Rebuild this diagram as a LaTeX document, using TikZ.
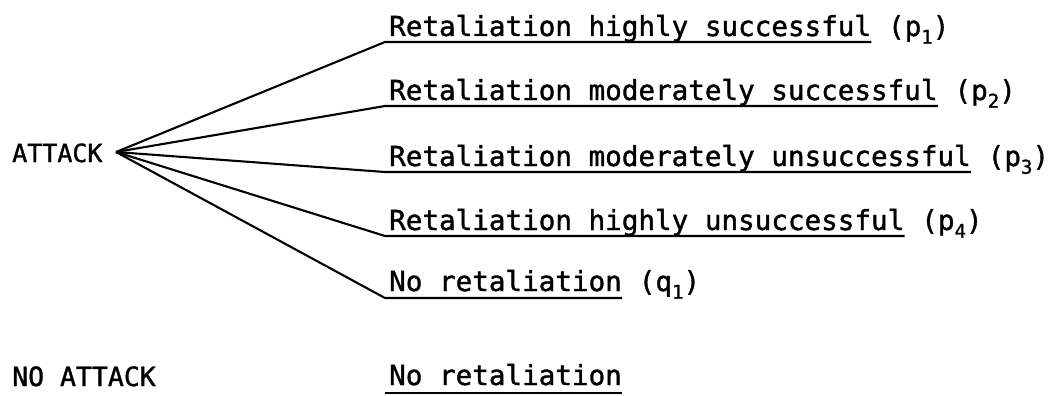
\documentclass[tikz,border=0pt]{standalone}
\usepackage{fontspec}
\newfontfamily\tw[FakeBold=1.3]{DejaVu Sans Mono}
\newcommand{\sub}[1]{\raisebox{-0.28em}{\fontsize{19}{19}\selectfont #1}}
\begin{document}
\begin{tikzpicture}[x=1pt,y=-1pt,
  lab/.style={inner sep=0pt,anchor=base west,font=\tw\fontsize{27.6}{30}\selectfont},
  biglab/.style={inner sep=0pt,anchor=base west,font=\tw\fontsize{25}{28}\selectfont},
  prob/.style={inner sep=0pt,anchor=base west,font=\tw\fontsize{27.6}{30}\selectfont},
  branch/.style={line width=2.1pt,line join=round}]
\useasboundingbox (0,0) rectangle (1052,396);
\coordinate (root) at (116,152);
\node[biglab] (attack) at (12,162) {ATTACK};
\node[lab,font=\tw\fontsize{26.5}{29}\selectfont] (noattack) at (12,386) {NO ATTACK};
% branch joints
\coordinate (j1) at (385,42);
\coordinate (j2) at (385,106);
\coordinate (j3) at (385,172);
\coordinate (j4) at (385,236);
\coordinate (j5) at (385,298);
\coordinate (j6) at (385,393);
% texts
\node[lab] (t1) at (389,36) {Retaliation highly successful};
\node[lab] (t2) at (389,100) {Retaliation moderately successful};
\node[lab] (t3) at (389,166) {Retaliation moderately unsuccessful};
\node[lab] (t4) at (389,230) {Retaliation highly unsuccessful};
\node[lab] (t5) at (389,291) {No retaliation};
\node[lab] (t6) at (389,385) {No retaliation};
\node[prob] (p1) at ([xshift=16.6pt]t1.base east) {(p\sub{1})};
\node[prob] (p2) at ([xshift=16.6pt]t2.base east) {(p\sub{2})};
\node[prob] (p3) at ([xshift=16.6pt]t3.base east) {(p\sub{3})};
\node[prob] (p4) at ([xshift=16.6pt]t4.base east) {(p\sub{4})};
\node[prob] (q1) at ([xshift=16.6pt]t5.base east) {(q\sub{1})};
% connectors
\draw[branch] (root) -- (j1) -- (j1 -| t1.east);
\draw[branch] (root) -- (j2) -- (j2 -| t2.east);
\draw[branch] (root) -- (j3) -- (j3 -| t3.east);
\draw[branch] (root) -- (j4) -- (j4 -| t4.east);
\draw[branch] (root) -- (j5) -- (j5 -| t5.east);
\draw[branch] (j6) -- (j6 -| t6.east);
\end{tikzpicture}
\end{document}
